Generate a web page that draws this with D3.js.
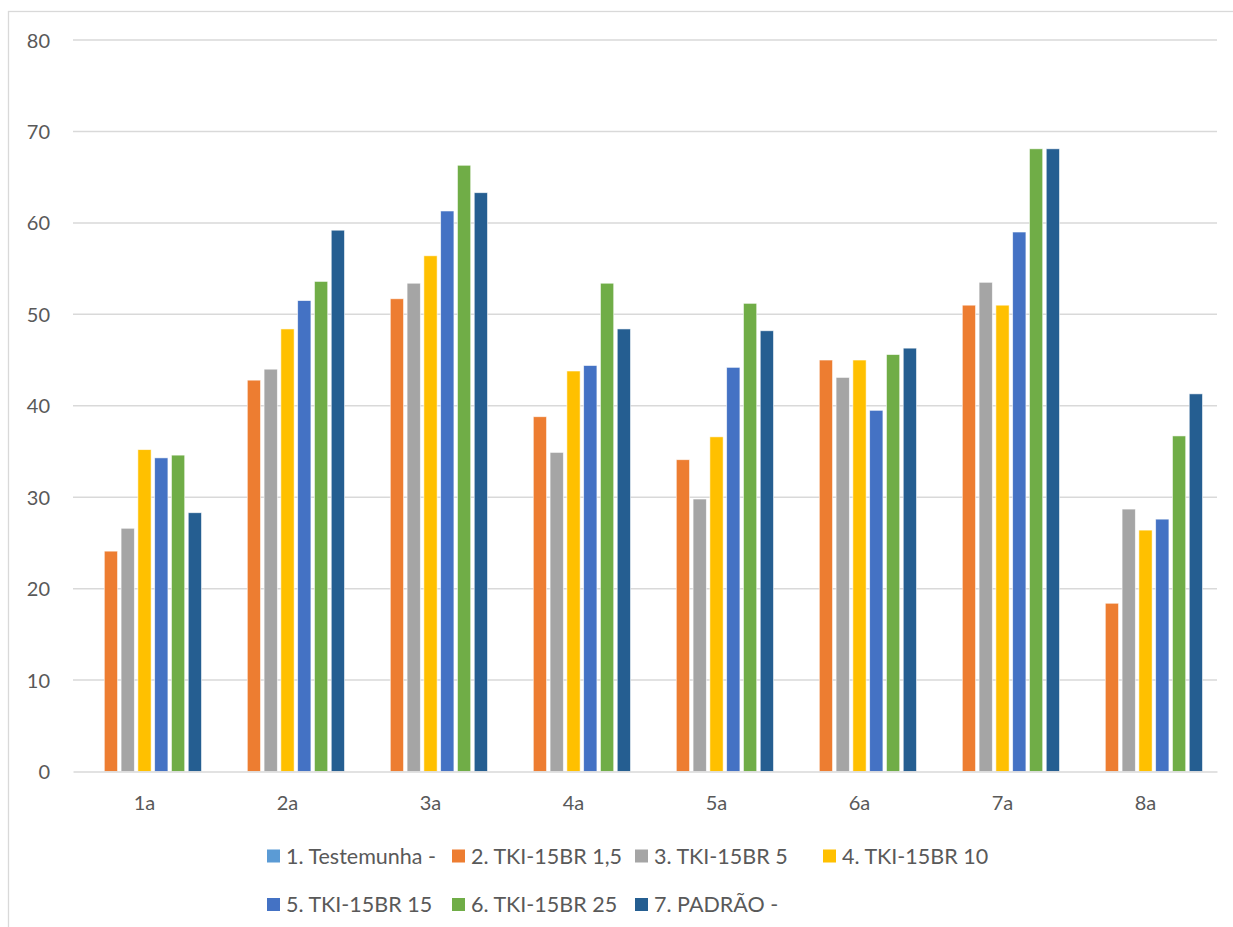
<!DOCTYPE html>
<html>
<head>
<meta charset="utf-8">
<script src="https://cdn.jsdelivr.net/npm/d3@7/dist/d3.min.js"></script>
<style>
  html, body { margin: 0; padding: 0; background: #fff; }
  svg { display: block; }
  text { font-family: Lato, "Open Sans", sans-serif; fill: #595959; }
</style>
</head>
<body>
<svg id="chart" width="1233" height="927"></svg>
<script>
// Categories along the x axis
const categories = ["1a", "2a", "3a", "4a", "5a", "6a", "7a", "8a"];

// Series names shown in the legend
const seriesNames = [
  "1. Testemunha -",
  "2. TKI-15BR 1,5",
  "3. TKI-15BR 5",
  "4. TKI-15BR 10",
  "5. TKI-15BR 15",
  "6. TKI-15BR 25",
  "7. PADRÃO -"
];

// Values per series, one per category
const testemunha = [0, 0, 0, 0, 0, 0, 0, 0];
const tki15 = [24.1, 42.8, 51.7, 38.8, 34.1, 45.0, 51.0, 18.4];
const tki5 = [26.6, 44.0, 53.4, 34.9, 29.8, 43.1, 53.5, 28.7];
const tki10 = [35.2, 48.4, 56.4, 43.8, 36.6, 45.0, 51.0, 26.4];
const tki15b = [34.3, 51.5, 61.3, 44.4, 44.2, 39.5, 59.0, 27.6];
const tki25 = [34.6, 53.6, 66.3, 53.4, 51.2, 45.6, 68.1, 36.7];
const padrao = [28.3, 59.2, 63.3, 48.4, 48.2, 46.3, 68.1, 41.3];

// Y axis tick values
const yTicks = [0, 10, 20, 30, 40, 50, 60, 70, 80];

const colors = ["#5B9BD5", "#ED7D31", "#A5A5A5", "#FFC000", "#4472C4", "#70AD47", "#255E91"];

const seriesValues = [testemunha, tki15, tki5, tki10, tki15b, tki25, padrao];
const series = seriesNames.map((name, i) => ({ name, values: seriesValues[i], color: colors[i] }));

const svg = d3.select("#chart");

// Outer chart frame
svg.append("rect")
  .attr("x", 8.5).attr("y", 11.5)
  .attr("width", 1240).attr("height", 940)
  .attr("fill", "none").attr("stroke", "#d9d9d9").attr("stroke-width", 1.3);

const plot = { left: 73, right: 1217, top: 40, bottom: 771.5 };

const y = d3.scaleLinear().domain([0, 80]).range([plot.bottom, plot.top]);
const x0 = d3.scaleBand().domain(categories).range([plot.left, plot.right]).padding(0);
const groupPad = 14.5;
const x1 = d3.scaleBand().domain(seriesNames)
  .range([groupPad, x0.bandwidth() - groupPad])
  .paddingInner(0.21).paddingOuter(0);

// Horizontal gridlines
svg.append("g").selectAll("line")
  .data(yTicks.filter(d => d > 0))
  .join("line")
  .attr("x1", plot.left).attr("x2", plot.right)
  .attr("y1", d => y(d)).attr("y2", d => y(d))
  .attr("stroke", "#d9d9d9").attr("stroke-width", 1.5);

// Y axis labels
const yAxis = d3.axisLeft(y).tickValues(yTicks).tickSize(0).tickPadding(0);
const gy = svg.append("g").attr("transform", `translate(50,0)`).call(yAxis);
gy.select(".domain").remove();
gy.selectAll("text")
  .attr("font-size", 20).attr("font-family", "Lato, sans-serif").attr("fill", "#595959")
  .attr("dy", "0.35em");

// Bars
const groups = svg.append("g").selectAll("g")
  .data(categories)
  .join("g")
  .attr("transform", d => `translate(${x0(d)},0)`);

groups.selectAll("rect")
  .data((c, ci) => series.map(s => ({ name: s.name, value: s.values[ci], color: s.color })).filter(d => d.value > 0))
  .join("rect")
  .attr("x", d => x1(d.name))
  .attr("width", x1.bandwidth())
  .attr("y", d => y(d.value))
  .attr("height", d => y(0) - y(d.value))
  .attr("fill", d => d.color)
  .attr("stroke", "#ffffff").attr("stroke-width", 0.8).attr("stroke-opacity", 0.7);

// Category axis line and labels
const xAxis = d3.axisBottom(x0).tickSize(0).tickPadding(0);
const gx = svg.append("g").attr("transform", `translate(0,${plot.bottom})`).call(xAxis);
gx.select(".domain").attr("stroke", "#d9d9d9").attr("stroke-width", 1.5);
gx.selectAll("text")
  .attr("font-size", 20).attr("font-family", "Lato, sans-serif").attr("fill", "#595959")
  .attr("y", 31).attr("dy", "0.35em");

// Legend
const legendCols = [267, 452, 635, 823];
const legendRows = [856, 904.5];
const legend = svg.append("g").selectAll("g")
  .data(series)
  .join("g")
  .attr("transform", (d, i) => `translate(${legendCols[i % 4]},${legendRows[Math.floor(i / 4)]})`);
legend.append("rect")
  .attr("x", 0).attr("y", -6.5).attr("width", 13).attr("height", 13)
  .attr("fill", d => d.color);
legend.append("text")
  .attr("x", 19).attr("y", 0).attr("dy", "0.35em")
  .attr("font-size", 21.5)
  .text(d => d.name);
</script>
</body>
</html>
